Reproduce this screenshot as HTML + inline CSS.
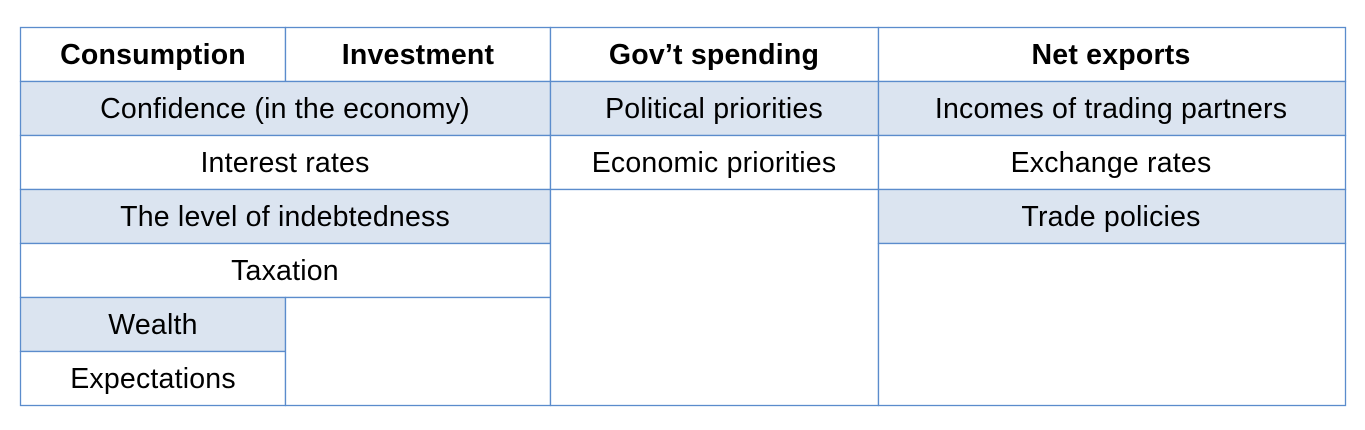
<!DOCTYPE html>
<html><head><meta charset="utf-8"><style>
html,body{margin:0;padding:0;background:#fff;width:1365px;height:430px;overflow:hidden}
svg{display:block}
text{font-family:"Liberation Sans",Arial,sans-serif;font-size:28.5px;fill:#000;letter-spacing:0.2px}
.h{font-weight:bold}
</style></head><body>
<svg width="1365" height="430">
<g stroke="#5b8ccc" stroke-width="1.3">
<rect x="20.5" y="27.5" width="265" height="54" fill="#fff"/>
<rect x="285.5" y="27.5" width="265" height="54" fill="#fff"/>
<rect x="550.5" y="27.5" width="328" height="54" fill="#fff"/>
<rect x="878.5" y="27.5" width="467" height="54" fill="#fff"/>
<rect x="20.5" y="81.5" width="530" height="54" fill="#dbe4f0"/>
<rect x="20.5" y="135.5" width="530" height="54" fill="#fff"/>
<rect x="20.5" y="189.5" width="530" height="54" fill="#dbe4f0"/>
<rect x="20.5" y="243.5" width="530" height="54" fill="#fff"/>
<rect x="20.5" y="297.5" width="265" height="54" fill="#dbe4f0"/>
<rect x="20.5" y="351.5" width="265" height="54" fill="#fff"/>
<rect x="285.5" y="297.5" width="265" height="108" fill="#fff"/>
<rect x="550.5" y="81.5" width="328" height="54" fill="#dbe4f0"/>
<rect x="550.5" y="135.5" width="328" height="54" fill="#fff"/>
<rect x="550.5" y="189.5" width="328" height="216" fill="#fff"/>
<rect x="878.5" y="81.5" width="467" height="54" fill="#dbe4f0"/>
<rect x="878.5" y="135.5" width="467" height="54" fill="#fff"/>
<rect x="878.5" y="189.5" width="467" height="54" fill="#dbe4f0"/>
<rect x="878.5" y="243.5" width="467" height="162" fill="#fff"/>
</g>
<g text-anchor="middle">
<text class="h" x="153" y="64">Consumption</text>
<text class="h" x="418" y="64">Investment</text>
<text class="h" x="714" y="64">Gov’t spending</text>
<text class="h" x="1111" y="64">Net exports</text>
<text x="285" y="118">Confidence (in the economy)</text>
<text x="285" y="172">Interest rates</text>
<text x="285" y="226">The level of indebtedness</text>
<text x="285" y="280">Taxation</text>
<text x="153" y="334">Wealth</text>
<text x="153" y="388">Expectations</text>
<text x="714" y="118">Political priorities</text>
<text x="714" y="172">Economic priorities</text>
<text x="1111" y="118">Incomes of trading partners</text>
<text x="1111" y="172">Exchange rates</text>
<text x="1111" y="226">Trade policies</text>
</g>
</svg>
</body></html>
